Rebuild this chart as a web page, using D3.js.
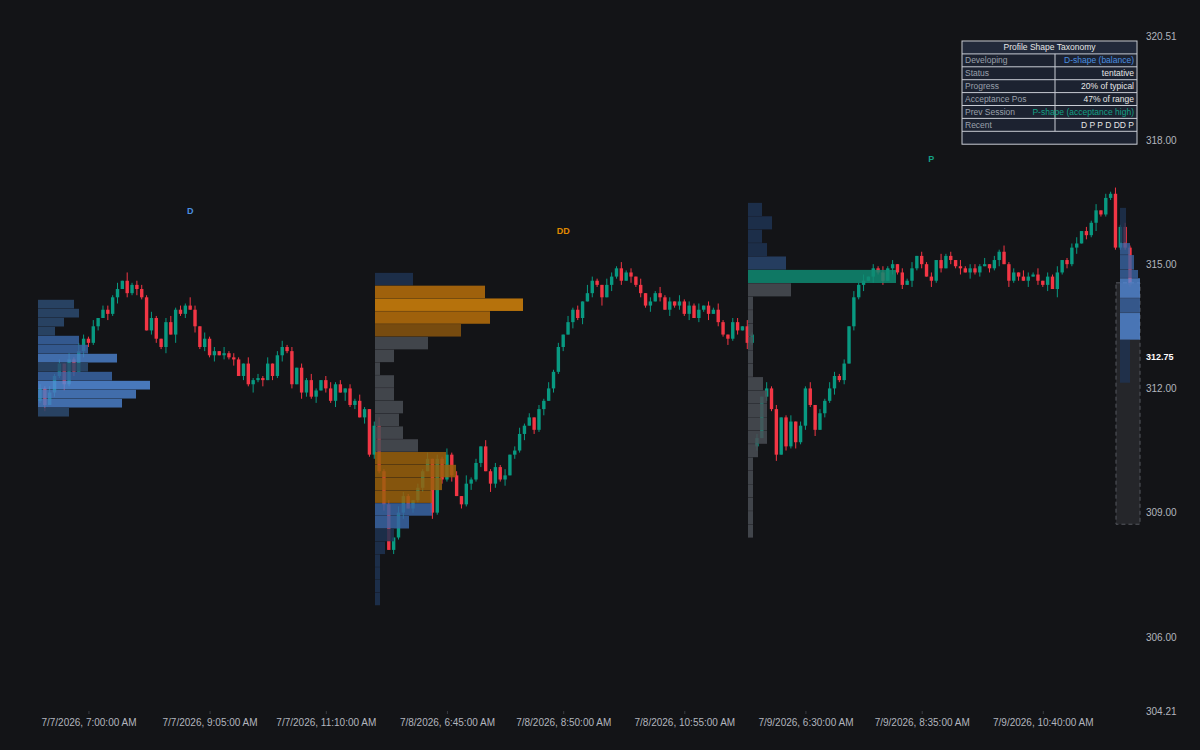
<!DOCTYPE html><html><head><meta charset="utf-8">
<script src="https://cdn.jsdelivr.net/npm/d3@7"></script>
<style>body{margin:0;background:#131417}svg{display:block}text{font-family:"Liberation Sans",Arial,sans-serif}</style>
</head><body><svg id="c" width="1200" height="750"></svg>
<script>
// ---- data ----
const day1 = [312.0,311.6,311.9,312.3,312.6,312.1,312.7,312.4,
 312.9,313.2,313.1,313.5,313.7,313.9,313.8,314.2,314.4,314.6,314.3,314.5,
 314.4,314.2,313.4,313.7,
 313.2,313.0,313.6,313.3,313.9,313.8,314.0,313.9,313.5,
 313.0,313.2,312.8,312.9,312.8,312.85,312.75,312.7,312.3,312.6,
 312.1,312.2,312.25,312.2,312.6,312.3,312.8,313.0,312.9,312.1,
 312.5,311.9,312.2,311.8,311.95,312.2,312.0,311.7,312.1,311.9,312.0,311.6,311.7,311.3,311.5,310.4,311.1];
const day2 = [310.0,309.2,308.1,308.4,309.0,
 309.4,309.1,309.3,309.6,310.0,310.3,
 309.0,310.3,309.8,310.4,309.9,
 309.4,309.2,309.7,309.8,310.2,310.6,
 310.0,309.7,310.1,309.8,309.9,310.4,310.5,
 310.9,311.1,311.3,311.0,311.5,311.7,312.0,312.4,
 313.0,313.3,313.6,313.9,313.7,314.1,314.3,314.6,
 314.5,314.2,314.5,314.7,314.9,314.6,314.8,314.7,
 314.5,314.3,314.0,314.1,314.3,314.2,313.9,314.1,314.0,314.1,
 313.8,314.0,313.7,313.9,314.0,313.8,313.9,313.6,313.3,313.2,313.6,313.4,313.5,313.1,313.3];
const day3 = [310.8,311.8,312.0,311.5,310.4,311.3,310.6,311.2,310.7,
 311.1,312.0,311.6,311.0,311.4,311.7,312.0,312.3,312.2,312.6,313.5,
 314.2,314.5,314.6,314.7,314.9,314.8,314.6,314.9,315.0,314.8,314.5,
 314.6,314.9,315.2,315.0,314.7,314.6,315.1,314.9,315.2,315.1,314.95,314.9,
 314.8,314.9,314.8,314.95,315.0,314.9,315.1,315.3,315.0,314.6,
 314.8,314.7,314.6,314.7,314.75,314.6,314.5,314.7,314.4,314.8,315.1,
 315.0,315.4,315.5,315.8,315.7,316.0,316.3,316.2,316.6,316.7,
 315.4,315.9,315.4,314.5];
const sessionOpens = [311.7, 311.1, 310.6];
const wickUp = "2131203142130221304122131023121420312031210312130231202131023120213102412032102130213120412031213023120213120312042103213120302131203121302131022031203120130213021321203130213120213021203120312213021312032130213012302130213121410";
const wickDn = "1302131203212031302131022130412031213021302141302131203213021304120312130213021203121302131204213021302130212031302140312031213020312130213021312031202130213121302131202130312031203120312021303120213031203021304121302141";

const tickIdx = [10,35,59,84,108,133,158,182,207];
const tickLabels = ["7/7/2026, 7:00:00 AM","7/7/2026, 9:05:00 AM","7/7/2026, 11:10:00 AM","7/8/2026, 6:45:00 AM","7/8/2026, 8:50:00 AM","7/8/2026, 10:55:00 AM","7/9/2026, 6:30:00 AM","7/9/2026, 8:35:00 AM","7/9/2026, 10:40:00 AM"];
const yTicks = [320.51,318.00,315.00,312.00,309.00,306.00,304.21];
const lastPrice = 312.75;

const prof1Vol = [36,41,26,17,41,50,79,50,74,112,98,84,31];
const prof1Col = ["o","o","o","o","v","v","b","o","v","p","b","b","o"];
const prof2Vol = [38,110,148,115,86,53,19,5,19,19,28,24,28,43,71,81,67,57,57,34,19,10,5,5,5,5];
const prof2Col = ["n","h","q","h","m","g","g","g","g","g","g","g","g","g","a","a","a","a","v","v","n","n","n","n","n","n"];
const prof3Vol = [14,24,14,19,38,148,43,5,5,5,5,5,5,15,19,19,19,19,10,5,5,5,5,5,5];
const prof3Col = ["n","n","n","n","d","t","g","g","g","g","g","g","g","g","g","g","g","g","g","g","g","g","g","g","g"];
const devBins = [[316.36,315.51,6,"n"],[315.51,315.22,10,"v"],[315.22,314.86,14,"v"],[314.86,314.66,18,"v"],[314.66,314.18,20,"p"],[314.18,313.82,20,"v"],[313.82,313.17,20,"p"],[313.17,312.13,10,"n"]];
const devBox = [314.55, 308.72];
const shapeLabels = [["D",31,316.21,"#4a8fe0"],["DD",108,315.73,"#e08a00"],["P",184,317.47,"#14a085"]];
const tableRows = [["Developing","D-shape (balance)","#4a8fe0"],["Status","tentative","#e6e6e6"],["Progress","20% of typical","#e6e6e6"],["Acceptance Pos","47% of range","#e6e6e6"],["Prev Session","P-shape (acceptance high)","#14a085"],["Recent","D P P D DD P","#e6e6e6"]];

// ---- build ----
const svg = d3.select("#c");
const y = d3.scaleLinear().domain([304.21,320.51]).range([711,36]);
const closes = day1.concat(day2, day3);
const starts = [0, day1.length, day1.length+day2.length];
const x = d3.scaleLinear().domain([0, closes.length-1]).range([40,1130]);
const candles = closes.map((c,i)=>{
  const si = starts.indexOf(i);
  const o = si>=0 ? sessionOpens[si] : closes[i-1];
  const h = Math.max(o,c) + (+(wickUp[i]||"1"))*0.05;
  const l = Math.min(o,c) - (+(wickDn[i]||"1"))*0.05;
  return {i,o,h,l,c};
});
const colMap = {o:"#2d4a70",v:"#3a64a3",b:"#4a7cc6",p:"#5289d8",n:"#1f3352",h:"#b86f0b",q:"#d4820a",m:"#8a550e",a:"#9a600c",g:"#4a4d55",d:"#29446c",t:"#0f8a72"};

const cg = svg.append("g");
cg.selectAll("line").data(candles).join("line")
  .attr("x1",d=>x(d.i)).attr("x2",d=>x(d.i)).attr("y1",d=>y(d.h)).attr("y2",d=>y(d.l))
  .attr("stroke",d=>d.c>=d.o?"#089981":"#f23645").attr("stroke-width",1);
cg.selectAll("rect").data(candles).join("rect")
  .attr("x",d=>x(d.i)-1.7).attr("width",3.4)
  .attr("y",d=>y(Math.max(d.o,d.c))).attr("height",d=>Math.max(1,Math.abs(y(d.o)-y(d.c))))
  .attr("fill",d=>d.c>=d.o?"#089981":"#f23645");

const vx = d3.scaleLinear().domain([0,100]).range([0,100]);
const profStartX = [38,375,748];
function profile(k, top, bin, vols, cols, op){
  const x0 = profStartX[k];
  svg.append("g").selectAll("rect").data(vols).join("rect")
    .attr("x",x0).attr("width",d=>vx(d))
    .attr("y",(d,j)=>y(top-j*bin)).attr("height",(d,j)=>y(top-(j+1)*bin)-y(top-j*bin)-0.3)
    .attr("fill",(d,j)=>colMap[cols[j]]).attr("opacity",op);
}
profile(0,314.14,0.2174,prof1Vol,prof1Col,0.85);
profile(1,314.79,0.309,prof2Vol,prof2Col,0.85);
profile(2,316.48,0.3236,prof3Vol,prof3Col,0.85);

svg.append("rect").attr("x",1116).attr("width",24).attr("y",y(devBox[0])).attr("height",y(devBox[1])-y(devBox[0]))
  .attr("fill","#2a2b30").attr("fill-opacity",0.8).attr("stroke","#55575e").attr("stroke-dasharray","4,3");
svg.append("g").selectAll("rect").data(devBins).join("rect")
  .attr("x",1120).attr("width",d=>vx(d[2])).attr("y",d=>y(d[0])).attr("height",d=>y(d[1])-y(d[0])-0.3)
  .attr("fill",d=>colMap[d[3]]).attr("opacity",0.8);

svg.append("g").selectAll("text").data(shapeLabels).join("text")
  .attr("x",d=>x(d[1])).attr("y",d=>y(d[2])).attr("text-anchor","middle")
  .attr("fill",d=>d[3]).attr("font-size",9).attr("font-weight","bold").text(d=>d[0]);

const ya = svg.append("g").attr("transform","translate(1140,0)")
  .call(d3.axisRight(y).tickValues(yTicks).tickSize(0).tickPadding(6).tickFormat(d3.format(".2f")));
ya.select(".domain").remove();
ya.selectAll("text").attr("fill","#b2b5be").attr("font-size",10).attr("dy","0.32em");
svg.append("text").attr("x",1146).attr("y",y(lastPrice)).attr("dy","0.32em").attr("fill","#ffffff")
  .attr("font-size",9).attr("font-weight","bold").text(lastPrice.toFixed(2));
const xa = svg.append("g").attr("transform","translate(0,711)")
  .call(d3.axisBottom(x).tickValues(tickIdx).tickSize(3).tickPadding(5).tickFormat((d,k)=>tickLabels[k]));
xa.select(".domain").remove();
xa.selectAll("line").attr("stroke","#3a3c42");
xa.selectAll("text").attr("fill","#b2b5be").attr("font-size",10);

const tg = svg.append("g").attr("font-size",8.5);
const tx=962, tw=175, ty=41, rh=12.9, c1=93;
tg.append("rect").attr("x",tx).attr("y",ty).attr("width",tw).attr("height",rh*8).attr("fill","#1c2230").attr("stroke","#c8ccd4");
tg.append("rect").attr("x",tx+1).attr("y",ty+1).attr("width",tw-2).attr("height",rh-1).attr("fill","#222a3b");
tg.append("text").attr("x",tx+tw/2).attr("y",ty+rh/2+3).attr("text-anchor","middle").attr("fill","#e6e6e6").text("Profile Shape Taxonomy");
tableRows.forEach((r,k)=>{
  const yy = ty+rh*(k+1);
  tg.append("line").attr("x1",tx).attr("x2",tx+tw).attr("y1",yy).attr("y2",yy).attr("stroke","#c8ccd4");
  tg.append("line").attr("x1",tx+c1).attr("x2",tx+c1).attr("y1",yy).attr("y2",yy+rh).attr("stroke","#c8ccd4");
  tg.append("text").attr("x",tx+3).attr("y",yy+rh/2+3).attr("fill","#9aa0ab").text(r[0]);
  tg.append("text").attr("x",tx+tw-3).attr("y",yy+rh/2+3).attr("text-anchor","end").attr("fill",r[2]).text(r[1]);
});
tg.append("line").attr("x1",tx).attr("x2",tx+tw).attr("y1",ty+rh*7).attr("y2",ty+rh*7).attr("stroke","#c8ccd4");
</script></body></html>
